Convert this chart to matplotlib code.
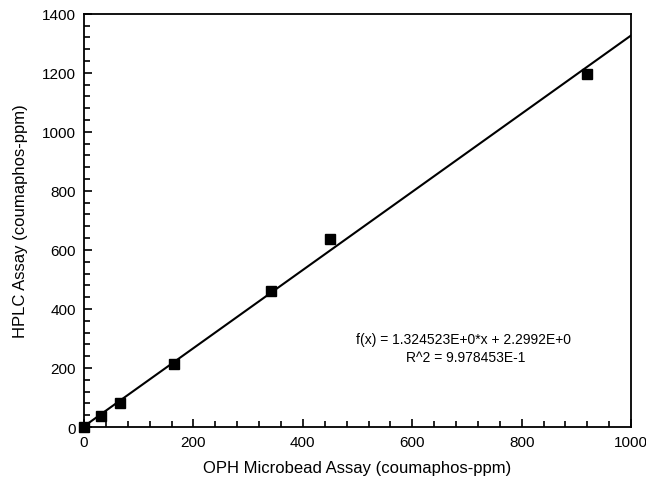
import numpy as np
import matplotlib
matplotlib.use("Agg")
import matplotlib.pyplot as plt
from matplotlib.ticker import MultipleLocator

plt.rcParams['font.family'] = ['Liberation Sans', 'DejaVu Sans']

# measured points
oph = [0, 32, 65, 165, 341, 450, 919]
hplc = [0, 37, 82, 213, 460, 637, 1195]

# fit from the chart annotation
slope = 1.324523
intercept = 2.2992
x_fit = np.array([0, 1000])

fig = plt.figure(figsize=(6.46, 4.85), dpi=100)
ax = fig.add_axes([0.130, 0.1175, 0.847, 0.852])

ax.plot(x_fit, slope * x_fit + intercept, color='black', lw=1.5, zorder=2)
ax.plot(oph, hplc, 's', color='black', markersize=7, zorder=3, clip_on=False)

ax.set_xlim(0, 1000)
ax.set_ylim(0, 1400)
ax.xaxis.set_major_locator(MultipleLocator(200))
ax.xaxis.set_minor_locator(MultipleLocator(40))
ax.yaxis.set_major_locator(MultipleLocator(200))
ax.yaxis.set_minor_locator(MultipleLocator(40))
ax.tick_params(which='both', direction='in', top=False, right=False,
               labelsize=11, width=1.2)
ax.tick_params(which='major', length=6, pad=6)
ax.tick_params(which='minor', length=4)
for s in ax.spines.values():
    s.set_linewidth(1.3)

ax.set_xlabel("OPH Microbead Assay (coumaphos-ppm)", fontsize=12, labelpad=8)
ax.set_ylabel("HPLC Assay (coumaphos-ppm)", fontsize=12, labelpad=10)

ax.text(693, 298, "f(x) = 1.324523E+0*x + 2.2992E+0", fontsize=10,
        ha='center', va='center')
ax.text(697, 237, "R^2 = 9.978453E-1", fontsize=10, ha='center', va='center')

fig.savefig("out.png", dpi=100)
